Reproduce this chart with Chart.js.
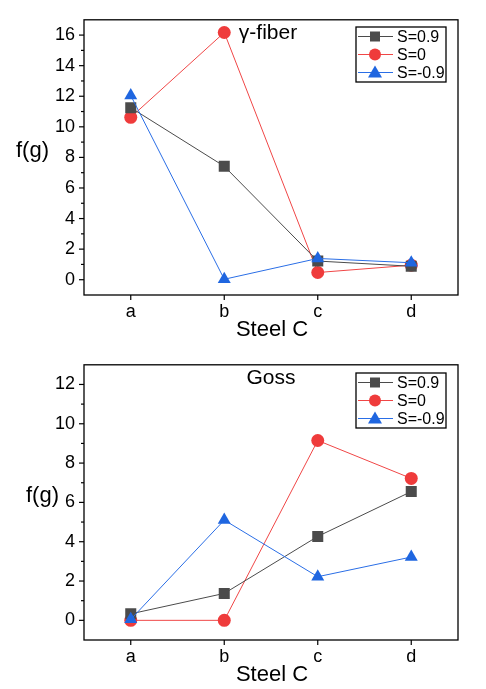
<!DOCTYPE html>
<html>
<head>
<meta charset="utf-8">
<script src="https://cdn.jsdelivr.net/npm/chart.js@4.4.1/dist/chart.umd.min.js"></script>
<style>
    html, body { margin: 0; padding: 0; background: #fff; }
    .box { position: absolute; left: 0; width: 486px; }
</style>
</head>
<body>
<div class="box" style="top:0;height:345px"><canvas id="top"></canvas></div>
<div class="box" style="top:345px;height:344px"><canvas id="bottom"></canvas></div>
<script>
const categories = ['a', 'b', 'c', 'd'];
const seriesNames = ['S=0.9', 'S=0', 'S=-0.9'];

// gamma-fiber panel
const gammaS09 = [11.25, 7.42, 1.22, 0.88];
const gammaS0 = [10.62, 16.17, 0.47, 0.95];
const gammaSm09 = [12.05, 0.03, 1.39, 1.11];

// Goss panel
const gossS09 = [0.33, 1.37, 4.27, 6.55];
const gossS0 = [0.0, 0.0, 9.15, 7.22];
const gossSm09 = [0.05, 5.1, 2.22, 3.22];

const gammaTicks = [0, 2, 4, 6, 8, 10, 12, 14, 16];
const gossTicks = [0, 2, 4, 6, 8, 10, 12];

const FONT = "'Liberation Sans', Arial, sans-serif";
const colors = ['#4b4b4b', '#ef3b3b', '#1f66e0'];
const lineColors = ['#4b4b4b', '#f04646', '#2a6ee6'];
const shapes = ['rect', 'circle', 'triangle'];
const radii = [7.8, 6.5, 7.5];

function makeDatasets(values) {
    const order = [1, 2, 0];
    return values.map((v, i) => ({
        label: seriesNames[i],
        data: v,
        borderColor: lineColors[i],
        backgroundColor: colors[i],
        borderWidth: 1,
        pointStyle: shapes[i],
        pointRadius: radii[i],
        pointBorderWidth: 0,
        pointBackgroundColor: colors[i],
        order: order[i],
        tension: 0
    }));
}

function drawMarker(ctx, shape, x, y, color, r) {
    ctx.fillStyle = color;
    ctx.beginPath();
    if (shape === 'rect') {
        ctx.rect(x - 5, y - 5, 10, 10);
    } else if (shape === 'circle') {
        ctx.arc(x, y, r, 0, Math.PI * 2);
    } else {
        ctx.moveTo(x, y - 7);
        ctx.lineTo(x + 7, y + 5);
        ctx.lineTo(x - 7, y + 5);
        ctx.closePath();
    }
    ctx.fill();
}

function framePlugin(opts) {
    return {
        id: 'frame',
        afterDraw(chart) {
            const ctx = chart.ctx;
            const a = chart.chartArea;
            const ys = chart.scales.y;
            const xs = chart.scales.x;
            ctx.save();
            ctx.strokeStyle = '#000';
            ctx.lineWidth = 1.3;
            ctx.strokeRect(a.left, a.top, a.right - a.left, a.bottom - a.top);
            ctx.lineWidth = 1.2;
            // y ticks: major on even, minor on odd
            for (let v = Math.ceil(ys.min); v < ys.max; v++) {
                if (v <= ys.min) continue;
                const py = ys.getPixelForValue(v);
                const len = (v % 2 === 0) ? 5 : 3;
                ctx.beginPath();
                ctx.moveTo(a.left - len, py);
                ctx.lineTo(a.left, py);
                ctx.stroke();
            }
            categories.forEach((c, i) => {
                const px = xs.getPixelForValue(i);
                ctx.beginPath();
                ctx.moveTo(px, a.bottom);
                ctx.lineTo(px, a.bottom + 5);
                ctx.stroke();
            });

            ctx.fillStyle = '#000';
            ctx.textBaseline = 'middle';
            ctx.textAlign = 'center';
            ctx.font = '22px ' + FONT;
            ctx.fillText('Steel C', (a.left + a.right) / 2 + 1, 330);
            ctx.textAlign = 'left';
            ctx.fillText('f(g)', opts.ylabelX, opts.ylabelY);
            ctx.font = '21px ' + FONT;
            ctx.textAlign = 'center';
            ctx.fillText(opts.title, opts.titleX, opts.titleY);

            // legend
            const lg = opts.legend;
            ctx.lineWidth = 1.3;
            ctx.strokeStyle = '#000';
            ctx.strokeRect(lg.x, lg.y, 90, 55);
            ctx.font = '16px ' + FONT;
            ctx.textAlign = 'left';
            seriesNames.forEach((name, i) => {
                const yy = lg.y + 9.5 + i * 18;
                ctx.strokeStyle = lineColors[i];
                ctx.lineWidth = 1;
                ctx.beginPath();
                ctx.moveTo(lg.x + 2, yy);
                ctx.lineTo(lg.x + 37, yy);
                ctx.stroke();
                drawMarker(ctx, shapes[i], lg.x + 19, yy, colors[i], 6);
                ctx.fillStyle = '#000';
                ctx.fillText(name, lg.x + 41, yy + 1);
            });
            ctx.restore();
        }
    };
}

function makeChart(id, values, ymin, ymax, tickList, top, xHeight, opts) {
    return new Chart(document.getElementById(id), {
        type: 'line',
        data: { labels: categories, datasets: makeDatasets(values) },
        options: {
            responsive: true,
            maintainAspectRatio: false,
            animation: false,
            layout: { padding: { left: 0, right: 28, top: top, bottom: 0 } },
            plugins: { legend: { display: false }, tooltip: { enabled: false } },
            scales: {
                x: {
                    offset: true,
                    grid: { display: false, drawTicks: false },
                    border: { display: false },
                    ticks: { color: '#000', padding: 6, font: { family: FONT, size: 18 } },
                    afterFit(s) { s.height = xHeight; }
                },
                y: {
                    min: ymin,
                    max: ymax,
                    grid: { display: false, drawTicks: false },
                    border: { display: false },
                    afterBuildTicks(s) { s.ticks = tickList.map(v => ({ value: v })); },
                    ticks: { color: '#000', padding: 9, font: { family: FONT, size: 18 } },
                    afterFit(s) { s.width = 84; }
                }
            }
        },
        plugins: [framePlugin(opts)]
    });
}

makeChart('top', [gammaS09, gammaS0, gammaSm09], -1, 17, gammaTicks, 15, 50, {
    title: 'γ-fiber', titleX: 268, titleY: 33,
    ylabelX: 16, ylabelY: 151,
    legend: { x: 356, y: 27 }
});
makeChart('bottom', [gossS09, gossS0, gossSm09], -1, 13, gossTicks, 16, 49, {
    title: 'Goss', titleX: 271, titleY: 33,
    ylabelX: 26, ylabelY: 151,
    legend: { x: 356, y: 28 }
});
</script>
</body>
</html>
